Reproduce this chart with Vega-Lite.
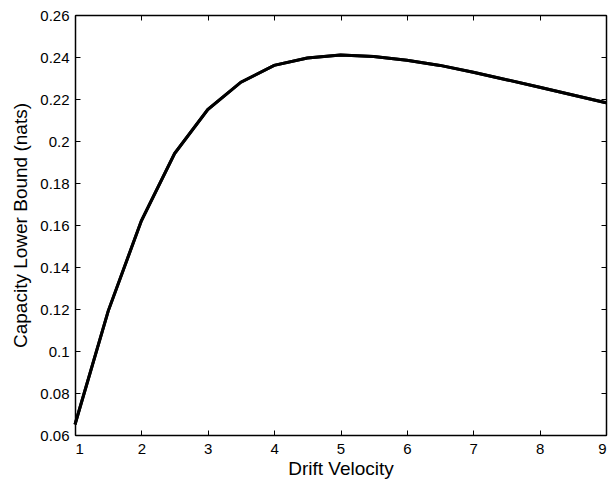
{
  "$schema": "https://vega.github.io/schema/vega-lite/v6.json",
  "width": 531,
  "height": 420,
  "autosize": {"type": "none"},
  "padding": {"left": 75, "top": 15, "right": 10, "bottom": 46},
  "background": "white",
  "config": {
    "view": {"stroke": "black", "strokeWidth": 1},
    "axis": {
      "labelFont": "Liberation Sans",
      "titleFont": "Liberation Sans",
      "titleFontWeight": "normal",
      "labelColor": "black",
      "titleColor": "black",
      "domainColor": "black",
      "tickColor": "black",
      "grid": false,
      "tickSize": -5,
      "domainWidth": 1.5
    }
  },
  "data": {
    "values": [
      {"v": 1, "c": 0.065},
      {"v": 1.5, "c": 0.119},
      {"v": 2, "c": 0.162},
      {"v": 2.5, "c": 0.194},
      {"v": 3, "c": 0.215},
      {"v": 3.5, "c": 0.228},
      {"v": 4, "c": 0.236},
      {"v": 4.5, "c": 0.2395},
      {"v": 5, "c": 0.241},
      {"v": 5.5, "c": 0.2402},
      {"v": 6, "c": 0.2385},
      {"v": 6.5, "c": 0.236},
      {"v": 7, "c": 0.2327},
      {"v": 7.5, "c": 0.2292},
      {"v": 8, "c": 0.2256},
      {"v": 8.5, "c": 0.2219},
      {"v": 9, "c": 0.2182}
    ]
  },
  "layer": [
    {
      "mark": {"type": "line", "color": "black", "strokeWidth": 3},
      "encoding": {
        "x": {"field": "v", "type": "quantitative", "scale": {"domain": [1, 9], "nice": false, "zero": false},
              "axis": {"orient": "bottom", "title": "Drift Velocity", "values": [1,2,3,4,5,6,7,8,9], "labelFontSize": 15, "titleFontSize": 19, "labelPadding": 11, "titlePadding": 3, "format": "d"}},
        "y": {"field": "c", "type": "quantitative", "scale": {"domain": [0.06, 0.26], "nice": false, "zero": false},
              "axis": {"orient": "left", "title": "Capacity Lower Bound (nats)", "values": [0.06,0.08,0.1,0.12,0.14,0.16,0.18,0.2,0.22,0.24,0.26], "format": ".2~f", "labelFontSize": 15, "titleFontSize": 19, "labelPadding": 11, "titlePadding": 9}}
      }
    },
    {
      "mark": {"type": "line", "color": "black", "strokeWidth": 3},
      "encoding": {
        "x": {"field": "v", "type": "quantitative", "scale": {"domain": [1, 9], "nice": false, "zero": false},
              "axis": {"orient": "top", "title": null, "labels": false, "values": [1,2,3,4,5,6,7,8,9]}},
        "y": {"field": "c", "type": "quantitative", "scale": {"domain": [0.06, 0.26], "nice": false, "zero": false},
              "axis": {"orient": "right", "title": null, "labels": false, "values": [0.06,0.08,0.1,0.12,0.14,0.16,0.18,0.2,0.22,0.24,0.26]}}
      }
    }
  ],
  "resolve": {"axis": {"x": "independent", "y": "independent"}}
}
